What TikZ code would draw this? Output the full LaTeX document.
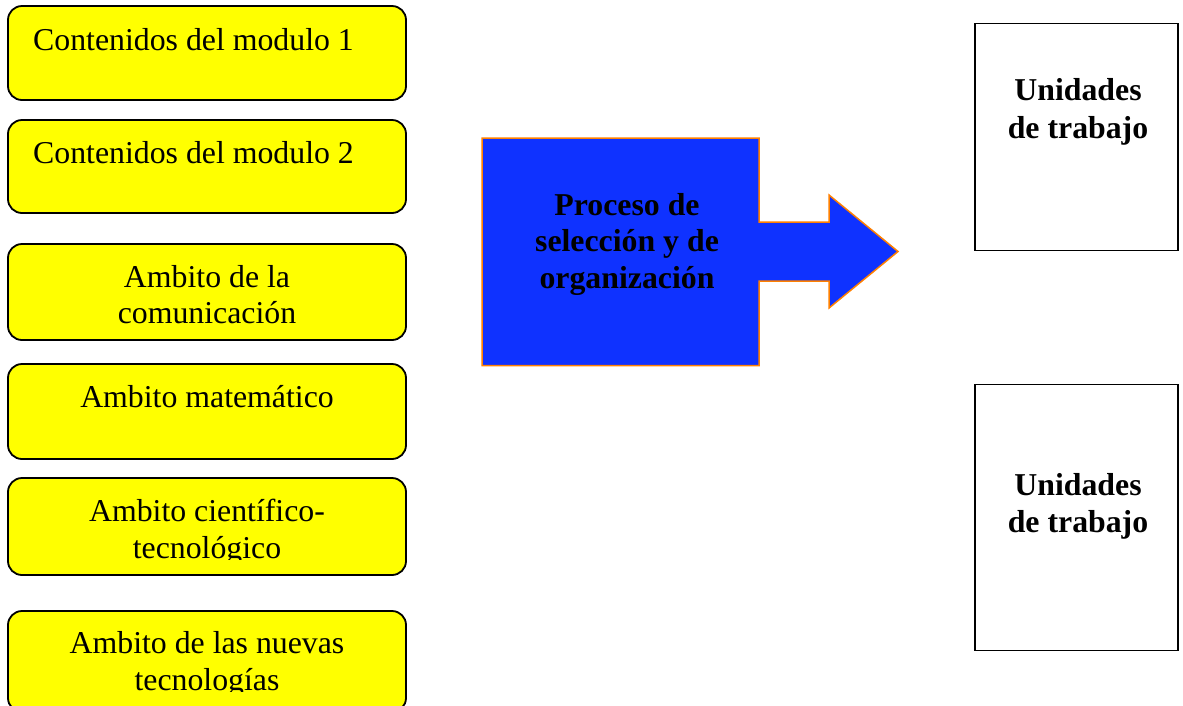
\documentclass[tikz,border=0pt]{standalone}
\usepackage{fontspec}
\setmainfont{Liberation Serif}
\definecolor{yel}{RGB}{255,255,0}
\definecolor{procblue}{RGB}{15,50,255}
\definecolor{procorange}{RGB}{255,128,0}
\begin{document}
\begin{tikzpicture}[x=1pt,y=-1pt,
  ybox/.style={draw=black, line width=1.8pt, fill=yel, rounded corners=14pt, inner sep=0pt},
  wbox/.style={draw=black, line width=1.5pt, fill=white, inner sep=0pt},
  lbl/.style={font=\fontsize{31.8}{36.5}\selectfont, inner sep=0pt, anchor=base},
  blbl/.style={font=\fontsize{31.8}{36.5}\selectfont\bfseries, inner sep=0pt, anchor=base}]
\useasboundingbox (0,0) rectangle (1183,705);
% yellow boxes
\node[ybox, minimum width=398pt, minimum height=94pt] (b1) at (207,53) {};
\node[ybox, minimum width=398pt, minimum height=93pt] (b2) at (207,166.5) {};
\node[ybox, minimum width=398pt, minimum height=96pt] (b3) at (207,292) {};
\node[ybox, minimum width=398pt, minimum height=95pt] (b4) at (207,411.5) {};
\node[ybox, minimum width=398pt, minimum height=97pt] (b5) at (207,526.5) {};
\node[ybox, minimum width=398pt, minimum height=101pt] (b6) at (207,661.5) {};
% yellow texts
\node[lbl, anchor=base west] (t1) at (33,50) {Contenidos del modulo 1};
\node[lbl, anchor=base west] (t2) at (33,163) {Contenidos del modulo 2};
\node[lbl] (t3a) at (207,287) {Ambito de la};
\node[lbl] (t3b) at (207,323.5) {comunicación};
\node[lbl] (t4) at (207,407) {Ambito matemático};
\begin{scope}
  \clip (8,478) rectangle (406,559);
  \node[lbl] (t5a) at (207,521.5) {Ambito científico-};
  \node[lbl] (t5b) at (207,558) {tecnológico};
\end{scope}
\begin{scope}
  \clip (8,611) rectangle (406,691);
  \node[lbl] (t6a) at (207,653.5) {Ambito de las nuevas};
  \node[lbl] (t6b) at (207,690) {tecnologías};
\end{scope}
% process arrow
\draw[fill=procblue, draw=procorange, line width=1.5pt, line join=miter]
  (482,138) -- (759,138) -- (759,222) -- (829,222) -- (829,195) -- (898,251.5)
  -- (829,308) -- (829,281) -- (759,281) -- (759,365.5) -- (482,365.5) -- cycle;
\node[blbl] (p1) at (627,215) {Proceso de};
\node[blbl] (p2) at (627,251.5) {selección y de};
\node[blbl] (p3) at (627,288) {organización};
% right boxes
\node[wbox, minimum width=203pt, minimum height=227pt] (u1) at (1076.25,137) {};
\node[wbox, minimum width=203pt, minimum height=266pt] (u2) at (1076.25,517.5) {};
\node[blbl] (u1a) at (1078,100.5) {Unidades};
\node[blbl] (u1b) at (1078,138) {de trabajo};
\node[blbl] (u2a) at (1078,495) {Unidades};
\node[blbl] (u2b) at (1078,532.5) {de trabajo};
\end{tikzpicture}
\end{document}
